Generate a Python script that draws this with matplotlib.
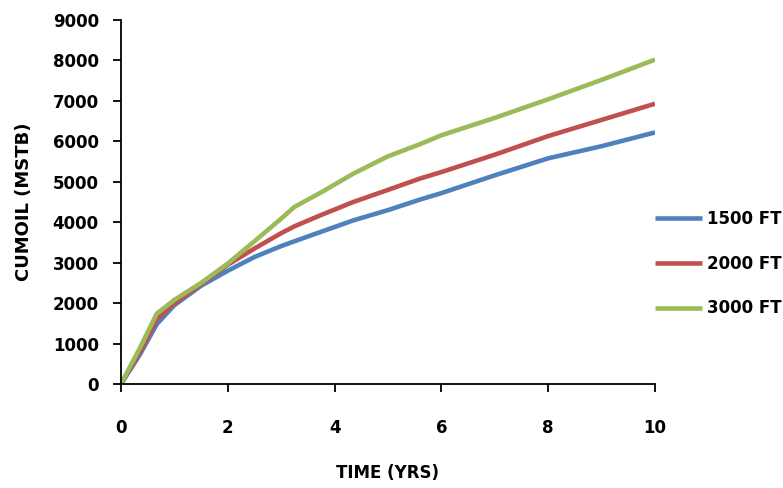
import matplotlib
matplotlib.use("Agg")
import matplotlib.pyplot as plt

time_yrs = [0, 0.35, 0.67, 1.0, 1.5, 2.0, 2.5, 3.0, 3.25, 3.75, 4.35, 5.0, 5.6, 6.0, 7.0, 8.0, 9.0, 10.0]
cum_1500 = [0, 720, 1480, 1950, 2430, 2800, 3140, 3410, 3530, 3765, 4045, 4300, 4560, 4720, 5160, 5580, 5880, 6220]
cum_2000 = [0, 780, 1600, 2000, 2470, 2950, 3350, 3730, 3900, 4180, 4500, 4800, 5080, 5240, 5670, 6130, 6530, 6930]
cum_3000 = [0, 880, 1740, 2080, 2500, 2980, 3530, 4090, 4380, 4740, 5200, 5630, 5930, 6150, 6580, 7040, 7520, 8020]
labels = ["1500 FT", "2000 FT", "3000 FT"]
colors = ["#4F81BD", "#C0504D", "#9BBB59"]
x_ticks = [0, 2, 4, 6, 8, 10]
y_ticks = list(range(0, 9001, 1000))

plt.rcParams['font.family'] = ['DejaVu Sans']
fig = plt.figure(figsize=(7.83, 4.88), dpi=100)
ax = fig.add_axes([121/783, 1-384/488, (655-121)/783, (384-20)/488])

for y, lab, c in zip([cum_1500, cum_2000, cum_3000], labels, colors):
    ax.plot(time_yrs, y, color=c, lw=3.3, label=lab, solid_capstyle='butt')

ax.set_xlim(0, 10)
ax.set_ylim(0, 9000)
ax.set_xticks(x_ticks)
ax.set_yticks(y_ticks)
for s in ['top', 'right']:
    ax.spines[s].set_visible(False)
for s in ['left', 'bottom']:
    ax.spines[s].set_linewidth(1.3)
ax.tick_params(axis='both', direction='out', length=6, width=1.3, labelsize=12)
ax.tick_params(axis='x', pad=19)
ax.tick_params(axis='y', pad=10)
for t in ax.get_xticklabels() + ax.get_yticklabels():
    t.set_fontweight('bold')

ax.set_xlabel("TIME (YRS)", fontsize=12, fontweight='bold', labelpad=20)
ax.set_ylabel("CUMOIL (MSTB)", fontsize=13, fontweight='bold', labelpad=14)

leg = fig.legend(loc='upper left', bbox_to_anchor=(655/783, 1-210/488), frameon=False,
                 prop={'weight': 'bold', 'size': 12}, handlelength=2.8, handletextpad=0.3,
                 labelspacing=1.6, borderpad=0, borderaxespad=0)

fig.savefig("out.png", dpi=100)
